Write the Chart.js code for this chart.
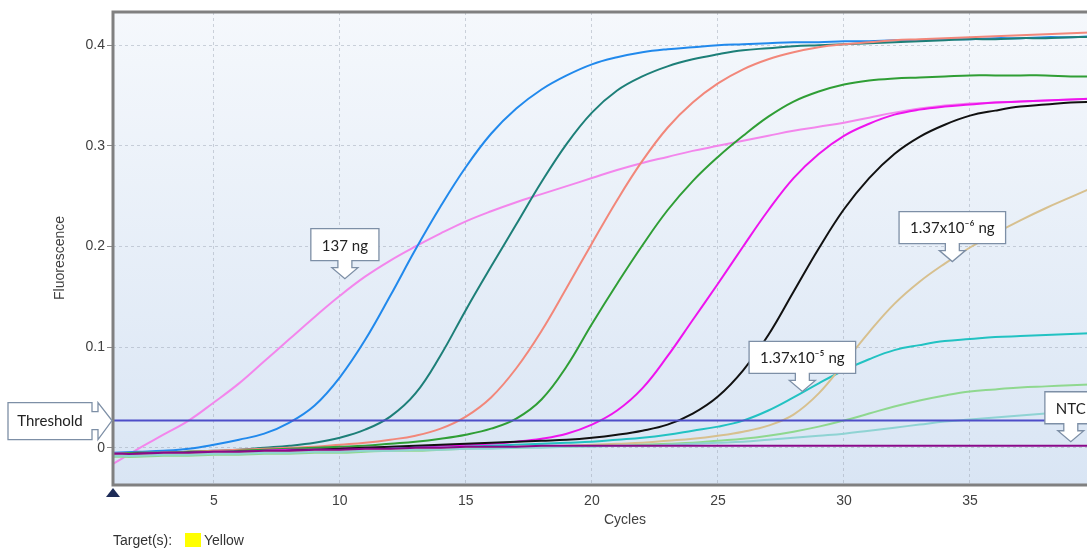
<!DOCTYPE html>
<html>
<head>
<meta charset="utf-8">
<script src="https://cdn.jsdelivr.net/npm/chart.js@4.4.0/dist/chart.umd.min.js"></script>
<style>
    html, body { margin: 0; padding: 0; background: #fff; overflow: hidden; }
    #wrap { position: relative; width: 1100px; height: 551px; }
    #legend { position: absolute; left: 113px; top: 532px; font: 14px "Liberation Sans", Arial, sans-serif; color: #333; white-space: nowrap; }
    #legend .sw { display: inline-block; width: 16px; height: 14px; background: #ffff00; vertical-align: -2px; margin: 0 3px 0 9px; }
</style>
</head>
<body>
<div id="wrap">
    <canvas id="chart" width="1100" height="551"></canvas>
    <div id="legend">Target(s): <span class="sw"></span>Yellow</div>
</div>
<script>
// Cicli e ticks
const CYCLES = [1,2,3,4,5,6,7,8,9,10,11,12,13,14,15,16,17,18,19,20,21,22,23,24,25,26,27,28,29,30,31,32,33,34,35,36,37,38,39,40];
const X_TICKS = [5, 10, 15, 20, 25, 30, 35];
const Y_TICKS = [0, 0.1, 0.2, 0.3, 0.4];
const THRESHOLD = 0.027;

// Curve di fluorescenza
const PINK_137NG = [-0.016,-0.001,0.013,0.027,0.045,0.064,0.086,0.108,0.13,0.151,0.17,0.186,0.2,0.213,0.225,0.235,0.244,0.252,0.26,0.268,0.276,0.283,0.289,0.295,0.3,0.305,0.31,0.315,0.319,0.323,0.328,0.333,0.337,0.34,0.342,0.343,0.344,0.345,0.346,0.347];
const BLUE = [-0.005,-0.004,-0.003,-0.001,0.003,0.008,0.014,0.025,0.042,0.07,0.107,0.151,0.197,0.24,0.279,0.312,0.337,0.356,0.37,0.381,0.388,0.393,0.396,0.398,0.4,0.401,0.402,0.403,0.403,0.404,0.404,0.405,0.405,0.406,0.406,0.407,0.407,0.408,0.408,0.409];
const TEAL = [-0.007,-0.006,-0.005,-0.004,-0.003,-0.002,0,0.002,0.005,0.01,0.018,0.031,0.054,0.092,0.137,0.18,0.222,0.264,0.302,0.333,0.355,0.369,0.379,0.386,0.391,0.395,0.397,0.399,0.4,0.401,0.402,0.403,0.404,0.405,0.406,0.406,0.407,0.407,0.408,0.408];
const SALMON = [-0.006,-0.005,-0.005,-0.004,-0.003,-0.002,-0.001,0,0.001,0.003,0.005,0.008,0.012,0.019,0.031,0.05,0.079,0.116,0.159,0.203,0.246,0.285,0.318,0.343,0.362,0.376,0.386,0.393,0.398,0.401,0.403,0.405,0.406,0.407,0.408,0.409,0.41,0.411,0.412,0.413];
const GREEN = [-0.006,-0.005,-0.005,-0.004,-0.004,-0.003,-0.002,-0.001,0,0.001,0.002,0.004,0.006,0.009,0.013,0.019,0.029,0.048,0.081,0.123,0.163,0.201,0.236,0.265,0.289,0.31,0.329,0.344,0.354,0.361,0.365,0.367,0.368,0.369,0.37,0.37,0.37,0.37,0.369,0.369];
const MAGENTA = [-0.006,-0.006,-0.005,-0.005,-0.004,-0.004,-0.003,-0.002,-0.002,-0.001,0,0,0.001,0.002,0.003,0.004,0.006,0.009,0.014,0.023,0.037,0.059,0.091,0.127,0.163,0.2,0.236,0.268,0.292,0.31,0.322,0.331,0.336,0.339,0.341,0.343,0.344,0.345,0.346,0.347];
const BLACK = [-0.007,-0.006,-0.006,-0.005,-0.005,-0.004,-0.004,-0.003,-0.002,-0.001,0,0.001,0.002,0.003,0.004,0.005,0.006,0.007,0.008,0.01,0.013,0.017,0.023,0.034,0.051,0.077,0.112,0.155,0.198,0.237,0.268,0.292,0.309,0.321,0.33,0.335,0.339,0.341,0.343,0.344];
const TURQ_137E5 = [-0.008,-0.008,-0.007,-0.007,-0.006,-0.006,-0.005,-0.004,-0.004,-0.003,-0.002,-0.001,0,0,0.001,0.002,0.003,0.004,0.005,0.006,0.008,0.01,0.013,0.017,0.021,0.027,0.037,0.05,0.064,0.077,0.088,0.097,0.102,0.106,0.108,0.11,0.111,0.112,0.113,0.114];
const TAN_137E6 = [-0.007,-0.007,-0.006,-0.006,-0.005,-0.005,-0.004,-0.004,-0.003,-0.003,-0.002,-0.002,-0.001,-0.001,0,0,0.001,0.001,0.002,0.003,0.004,0.005,0.007,0.009,0.012,0.016,0.022,0.033,0.054,0.084,0.115,0.143,0.165,0.183,0.199,0.213,0.226,0.238,0.249,0.26];
const LIGHT_GREEN = [-0.009,-0.009,-0.008,-0.008,-0.007,-0.007,-0.006,-0.006,-0.005,-0.005,-0.004,-0.003,-0.003,-0.002,-0.001,0,0,0.001,0.001,0.002,0.002,0.003,0.004,0.005,0.007,0.009,0.012,0.016,0.021,0.027,0.034,0.041,0.047,0.052,0.056,0.058,0.06,0.061,0.062,0.063];
const LIGHT_CYAN = [-0.008,-0.008,-0.007,-0.007,-0.006,-0.006,-0.005,-0.005,-0.004,-0.004,-0.003,-0.003,-0.002,-0.002,-0.001,-0.001,0,0,0.001,0.001,0.002,0.002,0.003,0.004,0.005,0.006,0.008,0.01,0.012,0.014,0.017,0.02,0.023,0.026,0.028,0.03,0.032,0.034,0.036,0.038];
const NTC = [-0.006,-0.006,-0.005,-0.005,-0.004,-0.004,-0.003,-0.003,-0.002,-0.002,-0.001,-0.001,0,0,0.001,0.001,0.001,0.002,0.002,0.002,0.002,0.002,0.002,0.002,0.002,0.002,0.002,0.002,0.002,0.002,0.002,0.002,0.002,0.002,0.002,0.002,0.002,0.002,0.002,0.002];

// Etichette (ciclo, valore della punta della freccia)
const CALLOUT_TEXT = ['137 ng', '1.37x10\u207B\u2075 ng', '1.37x10\u207B\u2076 ng', 'NTC'];
const CALLOUT_CYCLE = [10.2, 28.35, 34.3, 39];
const CALLOUT_VALUE = [0.168, 0.056, 0.185, 0.006];

const SERIES = [
    { data: NTC, color: '#8a0a8a' },
    { data: LIGHT_CYAN, color: '#8fd3d3' },
    { data: LIGHT_GREEN, color: '#8fd88f' },
    { data: TAN_137E6, color: '#d7c08f' },
    { data: TURQ_137E5, color: '#22c2c2' },
    { data: BLACK, color: '#111111' },
    { data: MAGENTA, color: '#ee14ee' },
    { data: GREEN, color: '#2f9e35' },
    { data: SALMON, color: '#f2877a' },
    { data: TEAL, color: '#1d7f78' },
    { data: BLUE, color: '#2189ec' },
    { data: PINK_137NG, color: '#f386ec' }
];

const FONT = '"Liberation Sans", Arial, sans-serif';
const CALLOUT_FONT = '15px Lato, "Open Sans", sans-serif';

function downCallout(ctx, tipX, tipY, text) {
    ctx.font = CALLOUT_FONT;
    const w = ctx.measureText(text).width + 22;
    const h = 32;
    const bottom = tipY - 18;
    const top = bottom - h;
    const left = tipX - w / 2;
    ctx.beginPath();
    ctx.moveTo(left, top);
    ctx.lineTo(left + w, top);
    ctx.lineTo(left + w, bottom);
    ctx.lineTo(tipX + 7, bottom);
    ctx.lineTo(tipX + 7, bottom + 7);
    ctx.lineTo(tipX + 13, bottom + 7);
    ctx.lineTo(tipX, tipY);
    ctx.lineTo(tipX - 13, bottom + 7);
    ctx.lineTo(tipX - 7, bottom + 7);
    ctx.lineTo(tipX - 7, bottom);
    ctx.lineTo(left, bottom);
    ctx.closePath();
    ctx.fillStyle = '#ffffff';
    ctx.fill();
    ctx.strokeStyle = '#7d8fa6';
    ctx.lineWidth = 1.3;
    ctx.stroke();
    ctx.fillStyle = '#222';
    ctx.textAlign = 'center';
    ctx.textBaseline = 'middle';
    ctx.fillText(text, tipX, top + h / 2 + 1);
}

function rightCallout(ctx, tipX, tipY, text) {
    const left = 8, right = 92, top = tipY - 18, bottom = tipY + 19;
    ctx.beginPath();
    ctx.moveTo(left, top);
    ctx.lineTo(right, top);
    ctx.lineTo(right, tipY - 9);
    ctx.lineTo(right + 6, tipY - 9);
    ctx.lineTo(right + 6, top);
    ctx.lineTo(tipX, tipY);
    ctx.lineTo(right + 6, bottom);
    ctx.lineTo(right + 6, tipY + 9);
    ctx.lineTo(right, tipY + 9);
    ctx.lineTo(right, bottom);
    ctx.lineTo(left, bottom);
    ctx.closePath();
    ctx.fillStyle = '#ffffff';
    ctx.fill();
    ctx.strokeStyle = '#7d8fa6';
    ctx.lineWidth = 1.3;
    ctx.stroke();
    ctx.font = CALLOUT_FONT;
    ctx.fillStyle = '#222';
    ctx.textAlign = 'center';
    ctx.textBaseline = 'middle';
    ctx.fillText(text, (left + right) / 2, tipY + 1);
}

// Sfondo sfumato dell'area del grafico
const plotBackground = {
    id: 'plotBackground',
    beforeDraw(chart) {
        const { ctx, chartArea: a } = chart;
        const g = ctx.createLinearGradient(0, a.top, 0, a.bottom);
        g.addColorStop(0, '#f5f8fc');
        g.addColorStop(1, '#d9e5f4');
        ctx.save();
        ctx.fillStyle = g;
        ctx.fillRect(a.left, a.top, a.right - a.left, a.bottom - a.top);
        ctx.restore();
    }
};

function thresholdPixel(chart) {
    return chart.scales.y.getPixelForValue(THRESHOLD);
}

// Soglia, bordo, titoli assi ed etichette
const overlays = {
    id: 'overlays',
    afterDatasetsDraw(chart) {
        const { ctx, chartArea: a } = chart;
        const yT = thresholdPixel(chart);
        ctx.save();
        ctx.strokeStyle = '#4d4dc8';
        ctx.lineWidth = 2;
        ctx.beginPath();
        ctx.moveTo(a.left, yT);
        ctx.lineTo(a.right, yT);
        ctx.stroke();
        ctx.restore();
    },
    afterDraw(chart) {
        const { ctx, chartArea: a, scales } = chart;
        ctx.save();
        // bordo
        ctx.strokeStyle = '#808080';
        ctx.lineWidth = 3;
        ctx.beginPath();
        ctx.moveTo(a.right + 5, a.top);
        ctx.lineTo(a.left, a.top);
        ctx.lineTo(a.left, a.bottom);
        ctx.lineTo(a.right + 5, a.bottom);
        ctx.stroke();

        // marcatore triangolare sul primo ciclo
        const xm = scales.x.getPixelForValue(CYCLES[0]);
        ctx.fillStyle = '#1d2b57';
        ctx.beginPath();
        ctx.moveTo(xm - 7, a.bottom + 12);
        ctx.lineTo(xm + 7, a.bottom + 12);
        ctx.lineTo(xm, a.bottom + 3);
        ctx.closePath();
        ctx.fill();

        // titoli assi
        ctx.fillStyle = '#404040';
        ctx.font = '14px ' + FONT;
        ctx.textAlign = 'center';
        ctx.textBaseline = 'middle';
        ctx.fillText('Cycles', a.left + 512, 520);
        ctx.translate(60, 258);
        ctx.rotate(-Math.PI / 2);
        ctx.fillText('Fluorescence', 0, 0);
        ctx.restore();

        ctx.save();
        for (let i = 0; i < CALLOUT_TEXT.length; i++) {
            downCallout(ctx,
                scales.x.getPixelForValue(CALLOUT_CYCLE[i]),
                scales.y.getPixelForValue(CALLOUT_VALUE[i]),
                CALLOUT_TEXT[i]);
        }
        rightCallout(ctx, a.left - 1, thresholdPixel(chart), 'Threshold');
        ctx.restore();
    }
};

const ctx = document.getElementById('chart').getContext('2d');
new Chart(ctx, {
    type: 'line',
    data: {
        datasets: SERIES.map(s => ({
            data: CYCLES.map((c, i) => ({ x: c, y: s.data[i] })),
            borderColor: s.color,
            backgroundColor: s.color,
            borderWidth: 2,
            pointRadius: 0,
            tension: 0.4,
            fill: false
        }))
    },
    options: {
        responsive: false,
        animation: false,
        events: [],
        layout: { padding: { top: 12, right: 4, bottom: 0, left: 0 } },
        plugins: {
            legend: { display: false },
            tooltip: { enabled: false }
        },
        scales: {
            x: {
                type: 'linear',
                min: 1,
                max: 40,
                afterBuildTicks: scale => { scale.ticks = X_TICKS.map(v => ({ value: v })); },
                afterFit: scale => { scale.height = 66; },
                ticks: {
                    padding: 8,
                    color: '#404040',
                    font: { family: FONT, size: 14 }
                },
                grid: {
                    color: 'rgba(150, 160, 175, 0.45)',
                    drawTicks: false
                },
                border: { display: false, dash: [3, 3] }
            },
            y: {
                min: -0.037,
                max: 0.433,
                afterBuildTicks: scale => { scale.ticks = Y_TICKS.map(v => ({ value: v })); },
                afterFit: scale => { scale.width = 113; },
                ticks: {
                    padding: 2,
                    color: '#404040',
                    font: { family: FONT, size: 14 },
                    callback: v => String(v)
                },
                grid: {
                    color: 'rgba(150, 160, 175, 0.45)',
                    tickColor: '#8a8a8a',
                    tickLength: 6,
                    tickBorderDash: []
                },
                border: { display: false, dash: [3, 3] }
            }
        }
    },
    plugins: [plotBackground, overlays]
});
</script>
</body>
</html>
